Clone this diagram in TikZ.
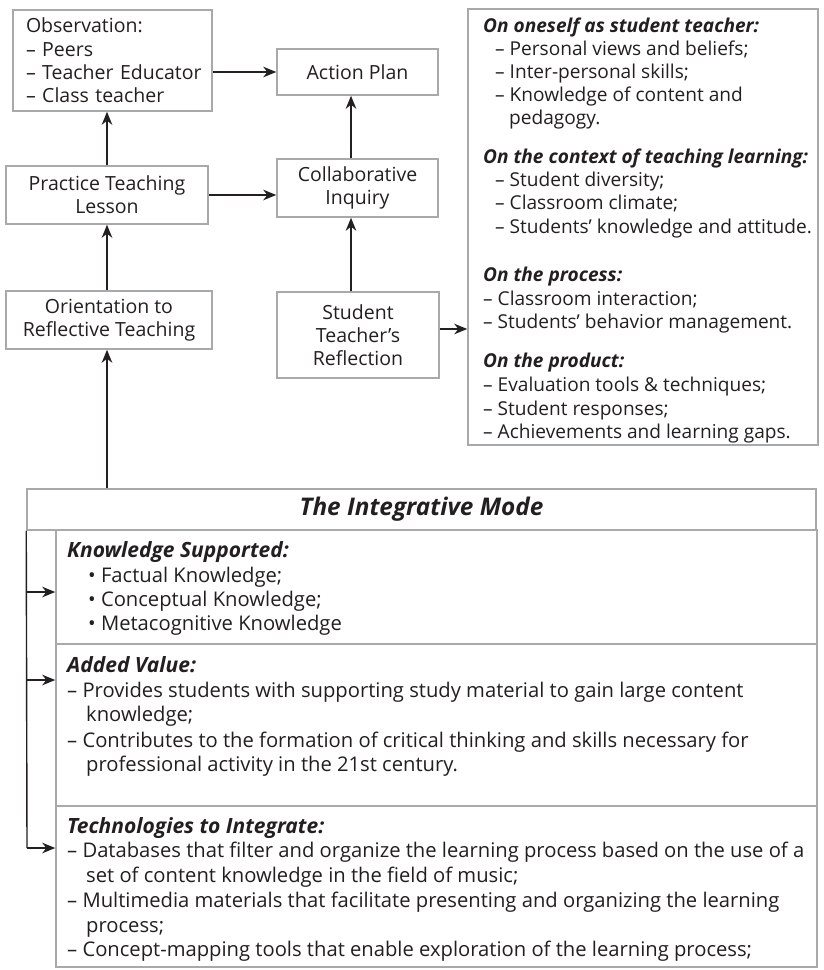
\documentclass[tikz,border=0pt]{standalone}
\usepackage{fontspec}
\setmainfont{Open Sans}
\usetikzlibrary{arrows.meta,calc}
\definecolor{ink}{HTML}{231F20}
\definecolor{boxc}{HTML}{A7A9AC}
\newcommand\bodyf{\fontsize{19.5}{23.3}\selectfont}
\newcommand\rbf{\fontsize{19.1}{23.3}\selectfont}
\newcommand\botf{\fontsize{20.2}{24.5}\selectfont}
\newcommand\titlef{\fontsize{24.3}{30}\selectfont\bfseries\itshape}
\begin{document}
\begin{tikzpicture}[x=1pt,y=-1pt,
  box/.style={draw=boxc, line width=1.5pt, rectangle, inner sep=0pt, text=ink, font=\bodyf, align=center},
  arr/.style={draw=ink, line width=1.4pt, -{Stealth[length=13pt,width=10.5pt,inset=4pt]}},
  lnk/.style={draw=ink, line width=1.4pt},
  lt/.style={anchor=base west, inner sep=0pt, text=ink, font=\rbf},
  hd/.style={lt, font=\rbf\bfseries\itshape},
  bt/.style={lt, font=\botf},
  bh/.style={lt, font=\fontsize{21}{25}\selectfont\bfseries\itshape}]
\fill[white] (0,0) rectangle (823,970);
\useasboundingbox (0,0) rectangle (823,970);

% left / middle column boxes
\node[box, minimum width=199pt, minimum height=101pt, text width=173pt, align=left] (obs) at (112.5,60.5)
  {\mbox{Observation:}\\\mbox{– Peers}\\\mbox{– Teacher Educator}\\\mbox{– Class teacher}};
\node[box, minimum width=161pt, minimum height=46pt] (act) at (357.5,72) {Action Plan};
\node[box, minimum width=202pt, minimum height=58pt] (prac) at (107,195) {Practice Teaching\\Lesson};
\node[box, minimum width=161pt, minimum height=58pt] (coll) at (357.5,188) {Collaborative\\Inquiry};
\node[box, minimum width=206pt, minimum height=58pt] (ori) at (109,320) {Orientation to\\Reflective Teaching};
\node[box, minimum width=162pt, minimum height=86pt] (stu) at (358,335) {Student\\Teacher’s\\Reflection};

% right box
\node[box, minimum width=350pt, minimum height=436pt] (rb) at (643,227) {};
\node[hd] (r1) at (483,32) {On oneself as student teacher:};
\node[lt] (r2) at (495,55) {– Personal views and beliefs;};
\node[lt] (r3) at (495,78) {– Inter-personal skills;};
\node[lt] (r4) at (495,101) {– Knowledge of content and};
\node[lt] (r5) at (509,124) {pedagogy.};
\node[hd] (r6) at (483,163) {On the context of teaching learning:};
\node[lt] (r7) at (495,186) {– Student diversity;};
\node[lt] (r8) at (495,209) {– Classroom climate;};
\node[lt] (r9) at (495,233) {– Students’ knowledge and attitude.};
\node[hd] (r10) at (483,281) {On the process:};
\node[lt] (r11) at (483,305) {– Classroom interaction;};
\node[lt] (r12) at (483,328) {– Students’ behavior management.};
\node[hd] (r13) at (483,367) {On the product:};
\node[lt] (r14) at (483,391) {– Evaluation tools \& techniques;};
\node[lt] (r15) at (483,415) {– Student responses;};
\node[lt] (r16) at (483,438) {– Achievements and learning gaps.};

% integrative mode
\node[box, minimum width=789pt, minimum height=41pt, font=\titlef] (title) at (421.5,509.5) {The Integrative Mode};
\node[box, minimum width=761pt, minimum height=114pt] (ks) at (436.5,587) {};
\node[box, minimum width=761pt, minimum height=162pt] (av) at (436.5,725) {};
\node[box, minimum width=761pt, minimum height=161pt] (ti) at (436.5,886.5) {};

\node[bh] (k0) at (67,557) {Knowledge Supported:};
\node[bt] (k1) at (88,582) {• Factual Knowledge;};
\node[bt] (k2) at (88,606) {• Conceptual Knowledge;};
\node[bt] (k3) at (88,630) {• Metacognitive Knowledge};

\node[bh] (a0) at (67,672) {Added Value:};
\node[bt] (a1) at (67,697) {– Provides students with supporting study material to gain large content};
\node[bt] (a2) at (86,721) {knowledge;};
\node[bt] (a3) at (67,747) {– Contributes to the formation of critical thinking and skills necessary for};
\node[bt] (a4) at (86,771) {professional activity in the 21st century.};

\node[bh] (t0) at (67,833) {Technologies to Integrate:};
\node[bt] (t1) at (67,857) {– Databases that filter and organize the learning process based on the use of a};
\node[bt] (t2) at (86,882) {set of content knowledge in the field of music;};
\node[bt] (t3) at (67,907) {– Multimedia materials that facilitate presenting and organizing the learning};
\node[bt] (t4) at (86,932) {process;};
\node[bt] (t5) at (67,956) {– Concept-mapping tools that enable exploration of the learning process;};

% connectors
\draw[arr] (obs.east |- act.west) -- (act.west);
\draw[arr] (prac.north) -- (prac.north |- obs.south);
\draw[arr] (prac.south |- ori.north) -- (prac.south);
\draw[arr] (prac.south |- title.north) -- (prac.south |- ori.south);
\draw[arr] (prac.east) -- (prac.east -| coll.west);
\draw[arr] ([xshift=-6.5pt]coll.north) -- ([xshift=-6.5pt]act.south);
\draw[arr] ([xshift=-7pt]stu.north) -- ([xshift=-6.5pt]coll.south);
\draw[arr] ([yshift=6pt]stu.east) -- ([yshift=6pt]stu.east -| rb.west);

\coordinate (b1) at (27,592);
\coordinate (b2) at (27,680);
\coordinate (b3) at (27,848);
\draw[lnk] (title.south west) -- (b3);
\draw[arr] (b1) -- (b1 -| ks.west);
\draw[arr] (b2) -- (b2 -| av.west);
\draw[arr] (b3) -- (b3 -| ti.west);
\end{tikzpicture}
\end{document}
